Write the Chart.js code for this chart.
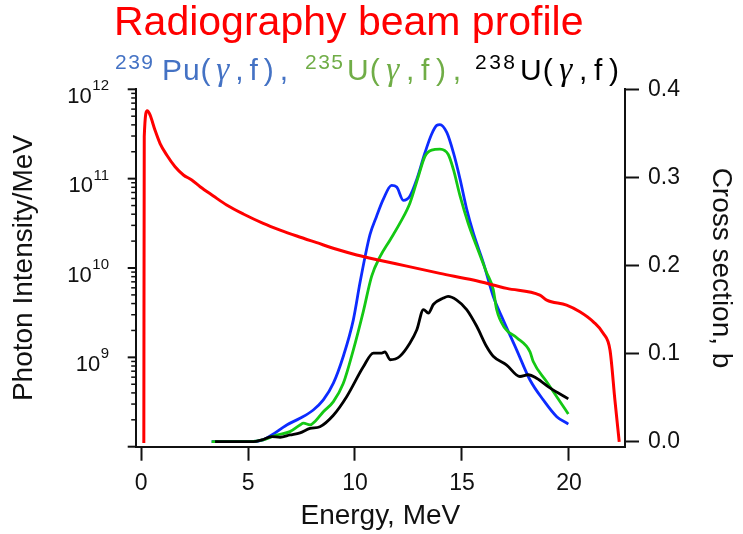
<!DOCTYPE html>
<html>
<head>
<meta charset="utf-8">
<script src="https://cdn.jsdelivr.net/npm/chart.js@4.4.1/dist/chart.umd.min.js"></script>
<style>
  html, body { margin: 0; padding: 0; background: #fff; }
  #wrap { width: 743px; height: 534px; position: relative; }
</style>
</head>
<body>
<div id="wrap"><canvas id="beamChart"></canvas></div>
<script>
  // beam profile (left, log axis)
  const redE = [0.13, 0.15, 0.29, 0.42, 0.65, 0.89, 1.2, 1.59, 1.98, 2.37, 2.76, 3.38, 4.0, 4.78, 5.71, 6.5, 7.28, 8.21, 9.14, 10.08, 11.09, 12.42, 13.97, 15.53, 17.09, 18.64, 18.96, 19.89, 20.51, 21.14, 21.6, 21.92, 22.15, 22.35];
  const redI = [1.1e8, 2.95e11, 5.75e11, 5.16e11, 3.5e11, 2.47e11, 1.84e11, 1.36e11, 1.10e11, 9.67e10, 8.13e10, 6.4e10, 5.07e10, 4.02e10, 3.16e10, 2.66e10, 2.28e10, 1.92e10, 1.62e10, 1.40e10, 1.23e10, 1.05e10, 8.71e9, 7.33e9, 5.92e9, 4.98e9, 4.38e9, 3.85e9, 3.24e9, 2.5e9, 1.86e9, 1.2e9, 3.3e8, 1.13e8];

  // cross sections (right axis, b)
  const puE = [3.3, 5.1, 5.7, 6.11, 6.81, 7.43, 8.05, 8.52, 8.99, 9.45, 9.92, 10.23, 10.47, 10.7, 11.01, 11.32, 11.71, 11.95, 12.26, 12.57, 12.89, 13.27, 13.58, 13.82, 13.97, 14.29, 14.6, 14.91, 15.22, 15.53, 16.0, 16.46, 16.93, 17.56, 18.18, 18.8, 19.43, 19.97];
  const puS = [0, 0, 0.002, 0.0076, 0.019, 0.0266, 0.036, 0.0474, 0.0664, 0.0967, 0.138, 0.18, 0.21, 0.235, 0.256, 0.275, 0.291, 0.289, 0.274, 0.279, 0.298, 0.328, 0.349, 0.359, 0.36, 0.351, 0.328, 0.298, 0.264, 0.237, 0.203, 0.165, 0.138, 0.104, 0.07, 0.0474, 0.0284, 0.02];

  const u235E = [3.3, 5.09, 5.71, 6.34, 6.96, 7.43, 7.59, 7.9, 8.13, 8.52, 8.99, 9.45, 9.92, 10.39, 10.78, 11.17, 11.64, 12.1, 12.57, 12.96, 13.27, 13.58, 13.97, 14.36, 14.6, 14.91, 15.29, 15.68, 16.15, 16.46, 16.62, 17.0, 17.56, 18.18, 18.33, 18.96, 19.58, 19.97];
  const u235S = [0, 0, 0.002, 0.0076, 0.0114, 0.019, 0.021, 0.019, 0.023, 0.034, 0.0455, 0.066, 0.104, 0.148, 0.188, 0.21, 0.229, 0.248, 0.271, 0.301, 0.324, 0.331, 0.332, 0.326, 0.309, 0.279, 0.248, 0.222, 0.192, 0.173, 0.150, 0.129, 0.118, 0.102, 0.091, 0.068, 0.0455, 0.0315];

  const u238E = [3.46, 5.25, 5.64, 6.11, 6.5, 6.96, 7.43, 7.9, 8.36, 8.99, 9.61, 10.39, 10.86, 11.25, 11.4, 11.64, 12.1, 12.57, 12.89, 13.2, 13.43, 13.67, 14.13, 14.35, 14.74, 15.22, 15.69, 16.15, 16.46, 17.09, 17.71, 18.1, 18.49, 19.11, 19.97];
  const u238S = [0, 0, 0.002, 0.0057, 0.005, 0.0076, 0.010, 0.015, 0.017, 0.030, 0.051, 0.085, 0.1006, 0.1006, 0.102, 0.093, 0.097, 0.112, 0.127, 0.150, 0.146, 0.156, 0.163, 0.165, 0.161, 0.150, 0.131, 0.108, 0.097, 0.087, 0.074, 0.076, 0.072, 0.061, 0.0486];

  // axis ticks
  const energyTicks = [0, 5, 10, 15, 20];
  const crossTicks = [0, 0.1, 0.2, 0.3, 0.4];
  const logDecades = [8, 9, 10, 11, 12];
  const labelDecades = [9, 10, 11, 12];
  const minorSteps = [2, 3, 4, 5, 6, 7, 8, 9];

  const FONT = "'Liberation Sans', Arial, sans-serif";
  const blueTxt = '#4472c4';
  const greenTxt = '#70ad47';

  function pts(xs, ys) {
    return xs.map((x, i) => ({ x: x, y: ys[i] }));
  }

  function logTickList() {
    const list = [];
    logDecades.forEach(d => {
      list.push({ value: Math.pow(10, d), major: true });
      if (d < 12) minorSteps.forEach(m => list.push({ value: m * Math.pow(10, d), major: false }));
    });
    return list;
  }

  // big red title and the coloured reaction line
  const headerPlugin = {
    id: 'header',
    afterDraw(chart) {
      const c = chart.ctx;
      c.save();
      c.textBaseline = 'alphabetic';
      c.textAlign = 'left';
      c.fillStyle = '#ff0000';
      c.font = '41px ' + FONT;
      c.fillText('Radiography beam profile', 114, 35);

      // [text, kind, colour, start x, end x]
      const parts = [
        ['239', 'sup', blueTxt, 115, 153],
        ['Pu(γ,f),', '', blueTxt, 162, 288],
        ['235', 'sup', greenTxt, 305, 343],
        ['U(γ,f),', '', greenTxt, 347, 461],
        ['238', 'sup', '#000', 475, 515],
        ['U(γ,f)', '', '#000', 520, 619]
      ];
      const fontFor = (ch, sup) => {
        if (sup) return '21px ' + FONT;
        if (ch === 'γ') return "italic 33px 'Liberation Serif', 'DejaVu Serif', serif";
        return '30px ' + FONT;
      };
      // tight after capital letters, looser round the gamma and commas
      const weightOf = ch => (ch === 'P' || ch === 'U' || ch === 'u') ? 0.15 : 1;
      parts.forEach(p => {
        const sup = p[1] === 'sup';
        const chars = Array.from(p[0]);
        let natural = 0, wsum = 0;
        chars.forEach((ch, i) => {
          c.font = fontFor(ch, sup);
          natural += c.measureText(ch).width;
          if (i < chars.length - 1) wsum += weightOf(ch);
        });
        const unit = wsum > 0 ? (p[4] - p[3] - natural) / wsum : 0;
        let x = p[3];
        c.fillStyle = p[2];
        chars.forEach(ch => {
          c.font = fontFor(ch, sup);
          c.fillText(ch, x, sup ? 69 : 80);
          x += c.measureText(ch).width + unit * weightOf(ch);
        });
      });
      c.restore();
    }
  };

  // log axis: decade labels with superscripts and long/short tick marks
  const logAxisPlugin = {
    id: 'logAxis',
    afterDraw(chart) {
      const s = chart.scales.yL;
      const c = chart.ctx;
      c.save();
      c.strokeStyle = '#111';
      s.ticks.forEach(t => {
        const y = s.getPixelForValue(t.value);
        const len = t.major ? 8 : 4.5;
        c.lineWidth = t.major ? 2 : 1.5;
        c.beginPath();
        c.moveTo(s.right - len, y);
        c.lineTo(s.right, y);
        c.stroke();
      });
      c.fillStyle = '#111';
      c.textAlign = 'left';
      c.textBaseline = 'alphabetic';
      labelDecades.forEach(d => {
        const y = s.getPixelForValue(Math.pow(10, d));
        const exp = String(d);
        c.font = '15px ' + FONT;
        const ew = c.measureText(exp).width;
        c.fillText(exp, 109 - ew, y + 1);
        c.font = '22px ' + FONT;
        const bw = c.measureText('10').width;
        c.fillText('10', 109 - ew - bw - 0.5, y + 13.5);
      });
      c.restore();
    }
  };

  const beamChart = document.getElementById('beamChart');

  // dataset 0 is painted last (on top)
  const myChartBeam = new Chart(beamChart, {
    type: 'line',
    data: {
      datasets: [
        { label: 'Beam', data: pts(redE, redI), yAxisID: 'yL', borderColor: '#ff0000', borderWidth: 3, cubicInterpolationMode: 'monotone' },
        { label: 'U238', data: pts(u238E, u238S), yAxisID: 'yR', borderColor: '#000000', borderWidth: 2.8, cubicInterpolationMode: 'monotone' },
        { label: 'U235', data: pts(u235E, u235S), yAxisID: 'yR', borderColor: '#14c814', borderWidth: 2.8, cubicInterpolationMode: 'monotone' },
        { label: 'Pu239', data: pts(puE, puS), yAxisID: 'yR', borderColor: '#0d2bff', borderWidth: 2.8, cubicInterpolationMode: 'monotone' }
      ]
    },
    options: {
      responsive: true,
      maintainAspectRatio: false,
      animation: false,
      layout: { padding: { top: 89.3, left: 0, right: 0, bottom: 0 }, autoPadding: false },
      elements: { point: { radius: 0 } },
      plugins: { legend: { display: false }, tooltip: { enabled: false } },
      scales: {
        x: {
          type: 'linear',
          min: -0.25,
          max: 22.62,
          afterBuildTicks: s => { s.ticks = energyTicks.map(v => ({ value: v })); },
          afterFit: s => { s.height = 87.3; },
          border: { display: true, color: '#111', width: 2 },
          grid: { display: true, drawOnChartArea: false, drawTicks: true, tickLength: 14, tickWidth: 2, tickColor: '#111' },
          ticks: { color: '#111', font: { family: FONT, size: 23 }, padding: 9, maxRotation: 0 },
          title: { display: true, text: 'Energy, MeV', color: '#111', font: { family: FONT, size: 28 }, padding: { top: 0, bottom: 1.2 } }
        },
        yL: {
          type: 'logarithmic',
          position: 'left',
          min: 1e8,
          max: 1e12,
          afterBuildTicks: s => { s.ticks = logTickList(); },
          afterFit: s => { s.width = 135.7; },
          border: { display: true, color: '#111', width: 2 },
          grid: { display: false },
          ticks: { display: false },
          title: { display: true, text: 'Photon Intensity/MeV', color: '#111', font: { family: FONT, size: 28 }, padding: { top: 7.2, bottom: 0 } }
        },
        yR: {
          type: 'linear',
          position: 'right',
          min: -0.0057,
          max: 0.4,
          afterBuildTicks: s => { s.ticks = crossTicks.map(v => ({ value: v })); },
          afterFit: s => { s.width = 118; },
          border: { display: true, color: '#111', width: 2 },
          grid: { display: true, drawOnChartArea: false, drawTicks: true, tickLength: 14, tickWidth: 2, tickColor: '#111' },
          ticks: { color: '#111', font: { family: FONT, size: 23 }, padding: 9, callback: v => v.toFixed(1) },
          title: { display: true, text: 'Cross section, b', color: '#111', font: { family: FONT, size: 28 }, padding: { top: 5.2, bottom: 0 } }
        }
      }
    },
    plugins: [headerPlugin, logAxisPlugin]
  });
</script>
</body>
</html>
